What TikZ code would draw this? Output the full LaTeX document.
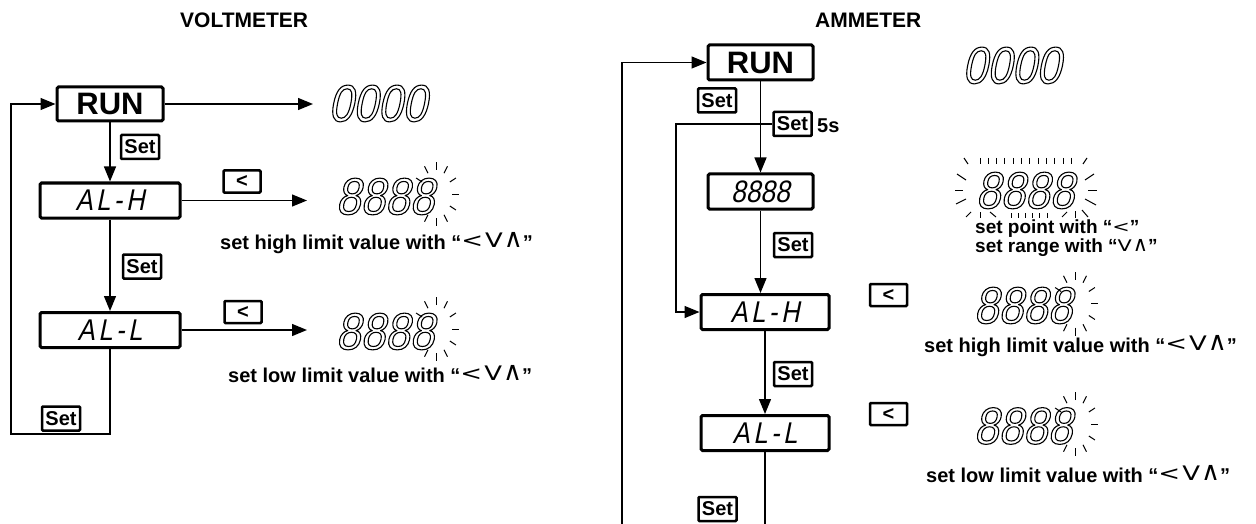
\documentclass[tikz,border=0pt]{standalone}
\usepackage{fontspec}
\usepackage{graphicx}
\setmainfont{Liberation Sans}
\newfontfamily\symf{DejaVu Sans}
\newfontfamily\segf[FakeSlant=0.2,FakeStretch=0.85]{Liberation Sans}
\newfontfamily\segl[FakeSlant=0.2,FakeStretch=0.85,LetterSpace=12]{Liberation Sans}
\usetikzlibrary{arrows.meta,calc}
\newcommand\outlined[1]{\special{pdf:literal direct 1 Tr 1.1 w}#1\special{pdf:literal direct 0 Tr}}
\newcommand\ks[2][1]{{\mdseries\symf\fontsize{20}{20}\selectfont\raisebox{1.5pt}{\scalebox{1.3}[#1]{#2}}}}
\newcommand\kssmall[2][1]{{\mdseries\symf\fontsize{16}{16}\selectfont\raisebox{1pt}{\scalebox{1.3}[#1]{#2}}}}
\newcommand\keysall{“\ks{<}\kern2pt\ks{V}\kern1pt\ks[1.3]{∧}”}
\newcommand\flashrays[2]{\foreach \a in {90,60,120,-150,30,0,-30,-60,-90,-120}{\draw[ray] ($(#1,#2)+(\a:16 and 24)$) -- ($(#1,#2)+(\a:23 and 32)$);}}
\tikzset{
 conn/.style={line width=1.3pt,-{Triangle[length=15pt,width=12pt]}},
 plainline/.style={line width=1.3pt},
 mainbox/.style={draw,line width=3pt,rounded corners=1.5pt,inner sep=0pt,minimum height=35pt},
 setbox/.style={draw,line width=2.5pt,rounded corners=1pt,inner sep=0pt,minimum width=38pt,minimum height=24pt,font=\bfseries\fontsize{20}{20}\selectfont},
 keybox/.style={draw,line width=2.5pt,rounded corners=1pt,inner sep=0pt,minimum width=37pt,minimum height=22pt,font=\bfseries\fontsize{20}{20}\selectfont},
 disp/.style={inner sep=0pt,font=\segf\fontsize{52}{52}\selectfont},
 segtext/.style={font=\segl\fontsize{30}{30}\selectfont},
 lbl/.style={inner sep=0pt,anchor=base west,font=\bfseries\fontsize{20}{24}\selectfont},
 smalllbl/.style={inner sep=0pt,anchor=base west,font=\bfseries\fontsize{19}{19}\selectfont},
 titlelbl/.style={inner sep=0pt,anchor=base west,font=\bfseries\fontsize{21}{21}\selectfont},
 ray/.style={line width=1pt},
}
\begin{document}
\begin{tikzpicture}[x=1pt,y=-1pt]
\path[use as bounding box,fill=white] (0,0) rectangle (1256,524);

% ---------------- VOLTMETER ----------------
\node[titlelbl] (vtitle) at (180,28) {VOLTMETER};
\node[mainbox,minimum width=106pt,minimum height=34pt,font=\bfseries\fontsize{31}{31}\selectfont] (vrun) at (110,104) {RUN};
\node[disp] (vzero) at (377.5,103.5) {\outlined{0000}};
\node[setbox] (vsetA) at (140,147) {Set};
\node[mainbox,minimum width=140pt,segtext] (valh) at (110,200.5) {AL-H};
\node[keybox] (vkeyA) at (242,181.5) {<};
\node[disp] (veightA) at (385,196.5) {\outlined{8888}};
\flashrays{436}{194}
\node[lbl] (vtxtA) at (220,249) {set high limit value with \keysall};
\node[setbox] (vsetB) at (142,266.5) {Set};
\node[mainbox,minimum width=140pt,segtext] (vall) at (110,330) {AL-L};
\node[keybox] (vkeyB) at (243,312) {<};
\node[disp] (veightB) at (385,331.5) {\outlined{8888}};
\flashrays{436}{329}
\node[lbl] (vtxtB) at (228,382) {set low limit value with \keysall};
\node[setbox] (vsetC) at (61,418.5) {Set};

\coordinate (vtipzero) at (313,104);
\coordinate (vtipA) at (307,200);
\coordinate (vcorner) at (11,434);
\draw[conn] (vrun.east) -- (vrun.east -| vtipzero);
\draw[conn] (vrun.south) -- (valh.north);
\draw[conn] (valh.east) -- (valh.east -| vtipA);
\draw[conn] (valh.south) -- (vall.north);
\draw[conn] (vall.east) -- (vall.east -| vtipA);
\draw[conn] (vall.south) |- (vcorner) |- (vrun.west);

% ---------------- AMMETER ----------------
\node[titlelbl] (atitle) at (815,28) {AMMETER};
\node[mainbox,minimum width=105pt,minimum height=35pt,font=\bfseries\fontsize{31}{31}\selectfont] (arun) at (760.5,62.5) {RUN};
\node[disp] (azero) at (1011.5,65.5) {\outlined{0000}};
\node[setbox] (asetA) at (717,100.5) {Set};
\node[setbox] (asetfive) at (792.5,124) {Set};
\node[lbl] (afive) at (817,133) {5s};
\node[mainbox,minimum width=105pt,font=\segf\fontsize{31}{31}\selectfont] (aebox) at (760.5,191.5) {8888};
\node[disp] (aflash) at (1025,190.5) {\outlined{8888}};
\foreach \i in {0,...,11}{\draw[ray] ({980+\i*8.3},158) -- ++(0,6);}
\draw[ray] (964,158) -- (968,164);
\draw[ray] (1087,158) -- (1083,164);
\draw[ray] (957,174) -- (966,180);
\draw[ray] (955,190) -- (963,190);
\draw[ray] (956,204) -- (966,199);
\draw[ray] (1094,174) -- (1085,180);
\draw[ray] (1088,190) -- (1097,190);
\draw[ray] (1085,199) -- (1096,205);
\draw[ray] (971,212) -- (966,217);
\draw[ray] (980,212) -- (980,218);
\draw[ray] (990,212) -- (996,217);
\foreach \i in {0,...,5}{\draw[ray] ({1011+\i*7.2},213) -- ++(0,5);}
\draw[ray] (1067,212) -- (1062,217);
\draw[ray] (1075,211) -- (1075,218);
\draw[ray] (1082,210) -- (1088,217);
\node[smalllbl] (atxtP) at (975,233) {set point with “\kssmall{<}”};
\node[smalllbl] (atxtR) at (975,252) {set range with “\kssmall{V}\kern1pt\kssmall[1.3]{∧}”};
\node[setbox] (asetB) at (793,245) {Set};
\node[mainbox,minimum width=128pt,segtext] (aalh) at (765,312) {AL-H};
\node[keybox] (akeyA) at (888.5,295) {<};
\node[disp] (aeightA) at (1023,305.5) {\outlined{8888}};
\flashrays{1075}{303.5}
\node[lbl] (atxtA) at (924,352) {set high limit value with \keysall};
\node[setbox] (asetC) at (793,374) {Set};
\node[mainbox,minimum width=128pt,segtext] (aall) at (765,433) {AL-L};
\node[keybox] (akeyB) at (888.5,414) {<};
\node[disp] (aeightB) at (1023,426) {\outlined{8888}};
\flashrays{1075}{424}
\node[lbl] (atxtB) at (926,482) {set low limit value with \keysall};
\node[setbox] (asetD) at (717.5,509) {Set};

\coordinate (amid) at (676,124);
\coordinate (abot) at (765,526);
\coordinate (aleft) at (622,526);
\draw[conn] (arun.south) -- (aebox.north);
\draw[conn] (aebox.south) -- (aebox.south |- aalh.north);
\draw[conn] (aalh.south) -- (aall.north);
\draw[plainline] (aall.south) -- (aall.south |- abot);
\draw[conn] (aleft) |- (arun.west);
\draw[conn] (asetfive.west) -- (amid) |- (aalh.west);
\end{tikzpicture}
\end{document}
